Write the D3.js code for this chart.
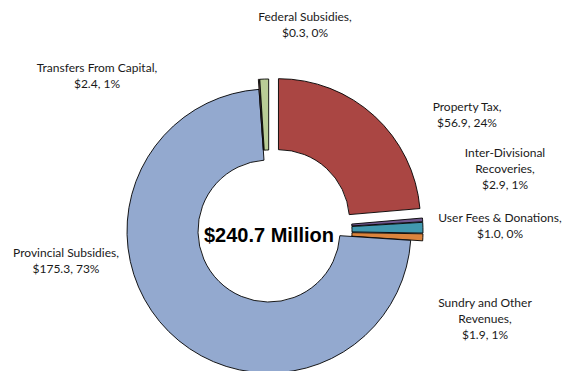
<!DOCTYPE html>
<html>
<head>
<meta charset="utf-8">
<script src="https://cdn.jsdelivr.net/npm/d3@7"></script>
<style>
  html, body { margin: 0; padding: 0; background: #fff; }
  svg { display: block; }
  .lbl { font-family: Lato, "Open Sans", sans-serif; font-size: 12px; fill: #1a1a1a; }
  .total { font-family: "Liberation Sans", Arial, sans-serif; font-weight: bold; font-size: 20px; fill: #000; }
</style>
</head>
<body>
<svg id="chart" width="563" height="371"></svg>
<script>
// Revenue sources, in millions of dollars, in slice order (clockwise from 12 o'clock)
const categories = [
  "Property Tax",
  "User Fees & Donations",
  "Inter-Divisional Recoveries",
  "Sundry and Other Revenues",
  "Provincial Subsidies",
  "Federal Subsidies",
  "Transfers From Capital"
];
const values = [56.9, 1.0, 2.9, 1.9, 175.3, 0.3, 2.4];
const colors = ["#AA4643", "#71588F", "#4198AF", "#DB843D", "#93A9CF", "#D19392", "#B9CD96"];
const totalLabel = "$240.7 Million";

// Label text lines per slice (name wrapped the way it is printed)
const labelLines = [
  ["Property Tax,"],
  ["User Fees & Donations,"],
  ["Inter-Divisional", "Recoveries,"],
  ["Sundry and Other", "Revenues,"],
  ["Provincial Subsidies,"],
  ["Federal Subsidies,"],
  ["Transfers From Capital,"]
];

// Layout: label anchor (centre of first line) and how far each slice is pulled out
const labelPos = [
  [467, 107], [500, 218], [505, 153], [485, 303], [66, 253], [305, 17], [97, 68]
];
const explode = [14, 12, 12, 12, 0, 10, 10];

const svg = d3.select("#chart");
const cx = 269, cy = 231;
const rOuter = 142, rInner = 71;

const total = d3.sum(values);
const pie = d3.pie().sort(null).value(d => d)(values);
const arc = d3.arc().innerRadius(rInner).outerRadius(rOuter);

const g = svg.append("g").attr("transform", `translate(${cx},${cy})`);

g.selectAll("path.slice")
  .data(pie)
  .join("path")
  .attr("class", "slice")
  .attr("d", arc)
  .attr("fill", (d, i) => colors[i])
  .attr("stroke", "#000")
  .attr("stroke-width", 0.9)
  .attr("stroke-linejoin", "miter")
  .attr("transform", (d, i) => {
    const a = (d.startAngle + d.endAngle) / 2;
    const e = explode[i];
    return `translate(${e * Math.sin(a)},${-e * Math.cos(a)})`;
  });

// Total in the hole
g.append("text")
  .attr("class", "total")
  .attr("text-anchor", "middle")
  .attr("x", 0)
  .attr("y", 11)
  .text(totalLabel);

// Data labels: name, value and share
const fmtVal = d3.format(".1f");
pie.forEach((d, i) => {
  const lines = labelLines[i].concat([`$${fmtVal(values[i])}, ${Math.round(values[i] / total * 100)}%`]);
  const t = svg.append("text")
    .attr("class", "lbl")
    .attr("text-anchor", "middle")
    .attr("x", labelPos[i][0])
    .attr("y", labelPos[i][1] + 4);
  lines.forEach((ln, k) => {
    t.append("tspan")
      .attr("x", labelPos[i][0])
      .attr("dy", k === 0 ? 0 : 16)
      .text(ln);
  });
});
</script>
</body>
</html>
